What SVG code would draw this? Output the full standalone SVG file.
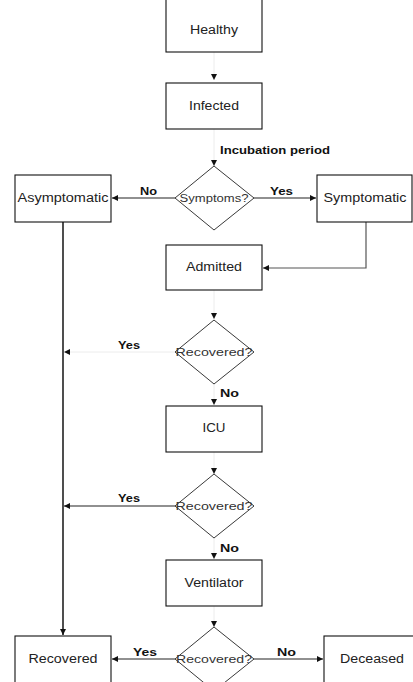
<svg xmlns="http://www.w3.org/2000/svg" width="413" height="682" viewBox="0 0 413 682">
<style>
.box{fill:#fff;stroke:#111;stroke-width:1.1}
.dia{fill:#fff;stroke:#222;stroke-width:0.9}
.t{font-family:"Liberation Sans",Arial,sans-serif;font-size:12px;fill:#222;text-anchor:middle;dominant-baseline:central}
.d{font-family:"Liberation Sans",Arial,sans-serif;font-size:10px;fill:#333;text-anchor:middle;dominant-baseline:central}
.l{font-family:"Liberation Sans",Arial,sans-serif;font-size:11px;font-weight:bold;fill:#111}
.c{fill:none;stroke:#222;stroke-width:1.2}
.f{fill:none;stroke:#ececec;stroke-width:1}
</style>
<defs>
<marker id="ah" markerUnits="userSpaceOnUse" markerWidth="7" markerHeight="6" refX="6" refY="3" orient="auto">
<path d="M0,0 L6,3 L0,6 z" fill="#111"/>
</marker>
</defs>
<rect width="413" height="682" fill="#fff"/>
<g id="connectors">
<line class="f" x1="214" y1="52" x2="214" y2="80" marker-end="url(#ah)"/>
<line class="f" x1="214" y1="129" x2="214" y2="166" marker-end="url(#ah)"/>
<line class="c" x1="175" y1="198" x2="112" y2="198" marker-end="url(#ah)"/>
<line class="c" x1="254" y1="198" x2="316" y2="198" marker-end="url(#ah)"/>
<polyline class="c" style="stroke:#555" points="366,222 366,268 263,268" marker-end="url(#ah)"/>
<line class="f" x1="214" y1="290" x2="214" y2="319" marker-end="url(#ah)"/>
<line class="f" x1="175" y1="352" x2="64" y2="352" marker-end="url(#ah)"/>
<line class="f" x1="214" y1="384" x2="214" y2="405" marker-end="url(#ah)"/>
<line class="f" x1="214" y1="452" x2="214" y2="474" marker-end="url(#ah)"/>
<line class="c" x1="175" y1="506" x2="64" y2="506" marker-end="url(#ah)"/>
<line class="f" x1="214" y1="538" x2="214" y2="559" marker-end="url(#ah)"/>
<line class="f" x1="214" y1="606" x2="214" y2="627" marker-end="url(#ah)"/>
<line class="c" x1="175" y1="659" x2="112" y2="659" marker-end="url(#ah)"/>
<line class="c" x1="254" y1="659" x2="323" y2="659" marker-end="url(#ah)"/>
<line class="c" style="stroke-width:1.6" x1="63" y1="222" x2="63" y2="635" marker-end="url(#ah)"/>
</g>
<g id="labels">
<text class="l" x="220" y="154" textLength="110" lengthAdjust="spacingAndGlyphs">Incubation period</text>
<text class="l" x="140" y="195" textLength="17" lengthAdjust="spacingAndGlyphs">No</text>
<text class="l" x="270" y="195" textLength="23" lengthAdjust="spacingAndGlyphs">Yes</text>
<text class="l" x="118" y="349" textLength="22" lengthAdjust="spacingAndGlyphs">Yes</text>
<text class="l" x="220" y="397" textLength="19" lengthAdjust="spacingAndGlyphs">No</text>
<text class="l" x="118" y="502" textLength="22" lengthAdjust="spacingAndGlyphs">Yes</text>
<text class="l" x="220" y="552" textLength="19" lengthAdjust="spacingAndGlyphs">No</text>
<text class="l" x="133" y="656" textLength="24" lengthAdjust="spacingAndGlyphs">Yes</text>
<text class="l" x="277" y="656" textLength="19" lengthAdjust="spacingAndGlyphs">No</text>
</g>
<g id="healthy"><rect class="box" x="166" y="-10" width="96" height="62"/><text class="t" x="214" y="30" textLength="48" lengthAdjust="spacingAndGlyphs">Healthy</text></g>
<g id="infected"><rect class="box" x="166" y="83" width="96" height="46"/><text class="t" x="214" y="106" textLength="50" lengthAdjust="spacingAndGlyphs">Infected</text></g>
<g id="symptoms"><polygon class="dia" points="214,166 254,198 214,230 175,198"/><text class="d" x="214" y="198" textLength="69" lengthAdjust="spacingAndGlyphs">Symptoms?</text></g>
<g id="asymptomatic"><rect class="box" x="15" y="175" width="96" height="47"/><text class="t" x="63" y="198" textLength="91" lengthAdjust="spacingAndGlyphs">Asymptomatic</text></g>
<g id="symptomatic"><rect class="box" x="317" y="175" width="95" height="47"/><text class="t" x="365" y="198" textLength="83" lengthAdjust="spacingAndGlyphs">Symptomatic</text></g>
<g id="admitted"><rect class="box" x="166" y="245" width="96" height="45"/><text class="t" x="214" y="267" textLength="56" lengthAdjust="spacingAndGlyphs">Admitted</text></g>
<g id="recovered1"><polygon class="dia" points="214,320 254,352 214,384 175,352"/><text class="d" x="214" y="352" textLength="77" lengthAdjust="spacingAndGlyphs">Recovered?</text></g>
<g id="icu"><rect class="box" x="166" y="406" width="96" height="46"/><text class="t" x="214" y="428" textLength="23" lengthAdjust="spacingAndGlyphs">ICU</text></g>
<g id="recovered2"><polygon class="dia" points="214,474 254,506 214,538 175,506"/><text class="d" x="214" y="506" textLength="77" lengthAdjust="spacingAndGlyphs">Recovered?</text></g>
<g id="ventilator"><rect class="box" x="166" y="560" width="96" height="46"/><text class="t" x="214" y="583" textLength="59" lengthAdjust="spacingAndGlyphs">Ventilator</text></g>
<g id="recovered3"><polygon class="dia" points="214,627 254,659 214,691 175,659"/><text class="d" x="214" y="659" textLength="76" lengthAdjust="spacingAndGlyphs">Recovered?</text></g>
<g id="recovered"><rect class="box" x="15" y="636" width="96" height="60"/><text class="t" x="63" y="659" textLength="69" lengthAdjust="spacingAndGlyphs">Recovered</text></g>
<g id="deceased"><rect class="box" x="324" y="636" width="100" height="60"/><text class="t" x="372" y="659" textLength="64" lengthAdjust="spacingAndGlyphs">Deceased</text></g>
</svg>
